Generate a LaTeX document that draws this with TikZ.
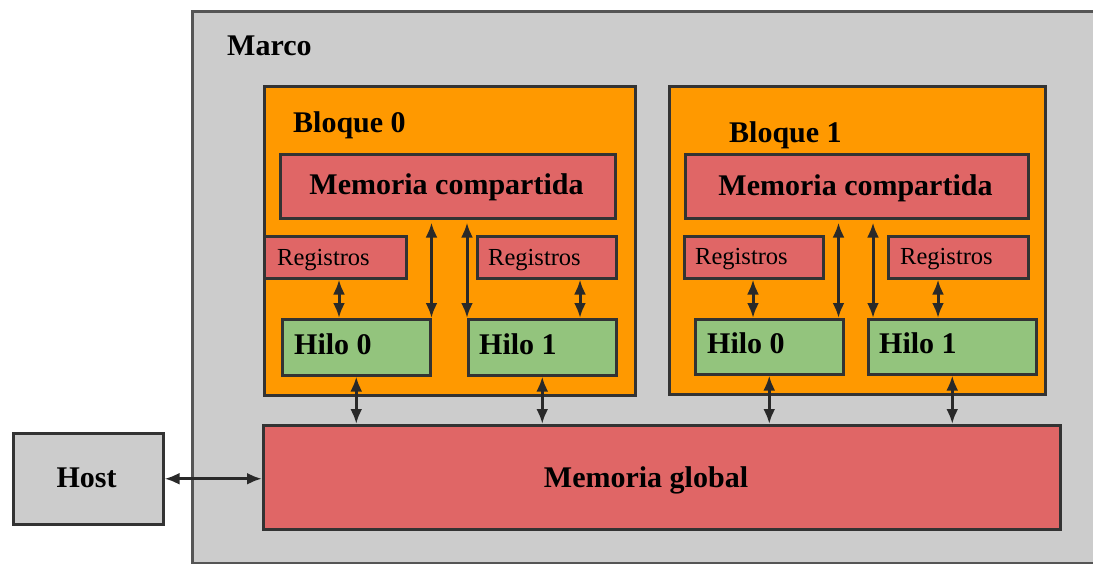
\documentclass[tikz,border=0pt]{standalone}
\usepackage{fontspec}
\setmainfont{Liberation Serif}
\usetikzlibrary{arrows.meta}

\definecolor{cgray}{HTML}{CCCCCC}
\definecolor{corange}{HTML}{FF9900}
\definecolor{cred}{HTML}{E06666}
\definecolor{cgreen}{HTML}{93C47D}
\definecolor{cedge}{HTML}{333333}
\definecolor{cframe}{HTML}{555555}

\tikzset{
  box/.style={draw=cedge, line width=2.5pt, inner sep=0pt, anchor=north west},
  big/.style={font=\fontsize{30}{34}\selectfont\bfseries, inner sep=0pt},
  small/.style={font=\fontsize{24.5}{28}\selectfont, inner sep=0pt},
  arr/.style={draw=cedge!80!black, line width=3pt,
    {Latex[length=15pt,width=12pt]}-{Latex[length=15pt,width=12pt]}},
}

\begin{document}
\begin{tikzpicture}[x=1pt,y=-1pt]
\useasboundingbox (0,0) rectangle (1093,563);
\clip (0,0) rectangle (1093,563);

% outer frame
\node[box, draw=cframe, fill=cgray, minimum width=919pt, minimum height=552pt] (marco) at (191,10) {};
\node[big, anchor=base west] (marcot) at (227,55) {Marco};

% host and global memory
\node[box, fill=cgray, minimum width=150pt, minimum height=91pt] (host) at (12,432) {};
\node[big, anchor=base] (hostt) at (86.5,487) {Host};
\node[box, fill=cred, minimum width=797pt, minimum height=104pt] (gm) at (262,424) {};
\node[big, anchor=base] (gmt) at (646,487) {Memoria global};

% block 0
\node[box, fill=corange, minimum width=371pt, minimum height=309pt] (b0) at (263,85) {};
\node[big, anchor=base west] (b0t) at (293,132) {Bloque 0};
\node[box, fill=cred, minimum width=335pt, minimum height=64pt] (sm0) at (279,153) {};
\node[big, anchor=base] (sm0t) at (446.5,194) {Memoria compartida};
\node[box, fill=cred, minimum width=142pt, minimum height=42pt] (r00) at (263,235) {};
\node[small, anchor=base west] (r00t) at (277,265) {Registros};
\node[box, fill=cred, minimum width=139pt, minimum height=42pt] (r01) at (476,235) {};
\node[small, anchor=base west] (r01t) at (488,265) {Registros};
\node[box, fill=cgreen, minimum width=148pt, minimum height=56pt] (h00) at (281,318) {};
\node[big, anchor=base west] (h00t) at (294,354) {Hilo 0};
\node[box, fill=cgreen, minimum width=148pt, minimum height=56pt] (h01) at (467,318) {};
\node[big, anchor=base west] (h01t) at (479,354) {Hilo 1};

% block 1
\node[box, fill=corange, minimum width=376pt, minimum height=308pt] (b1) at (668,85) {};
\node[big, anchor=base west] (b1t) at (729,142) {Bloque 1};
\node[box, fill=cred, minimum width=343pt, minimum height=64pt] (sm1) at (684,153) {};
\node[big, anchor=base] (sm1t) at (855.5,195) {Memoria compartida};
\node[box, fill=cred, minimum width=139pt, minimum height=42pt] (r10) at (683,235) {};
\node[small, anchor=base west] (r10t) at (695,264) {Registros};
\node[box, fill=cred, minimum width=140pt, minimum height=42pt] (r11) at (887,235) {};
\node[small, anchor=base west] (r11t) at (900,264) {Registros};
\node[box, fill=cgreen, minimum width=148pt, minimum height=55pt] (h10) at (694,318) {};
\node[big, anchor=base west] (h10t) at (707,353) {Hilo 0};
\node[box, fill=cgreen, minimum width=168pt, minimum height=55pt] (h11) at (867,318) {};
\node[big, anchor=base west] (h11t) at (879,353) {Hilo 1};

% registers <-> threads
\draw[arr] ([xshift=76pt]r00.south west) -- ([xshift=76pt]r00.south west |- h00.north);
\draw[arr] ([xshift=104pt]r01.south west) -- ([xshift=104pt]r01.south west |- h01.north);
\draw[arr] ([xshift=70pt]r10.south west) -- ([xshift=70pt]r10.south west |- h10.north);
\draw[arr] ([xshift=51pt]r11.south west) -- ([xshift=51pt]r11.south west |- h11.north);

% shared memory <-> threads
\draw[arr, shorten <=3pt] (h00.north east |- sm0.south) -- (h00.north east);
\draw[arr, shorten <=3pt] (h01.north west |- sm0.south) -- (h01.north west);
\draw[arr, shorten <=3pt] ([xshift=-6pt]h10.north east |- sm1.south) -- ([xshift=-6pt]h10.north east);
\draw[arr, shorten <=3pt] ([xshift=6pt]h11.north west |- sm1.south) -- ([xshift=6pt]h11.north west);

% threads <-> global memory
\draw[arr] (h00.south) -- (h00.south |- gm.north);
\draw[arr] (h01.south) -- (h01.south |- gm.north);
\draw[arr] (h10.south) -- (h10.south |- gm.north);
\draw[arr] (h11.south) -- (h11.south |- gm.north);

% host <-> global memory
\draw[arr] (host.east) -- (host.east -| gm.west);
\end{tikzpicture}
\end{document}
